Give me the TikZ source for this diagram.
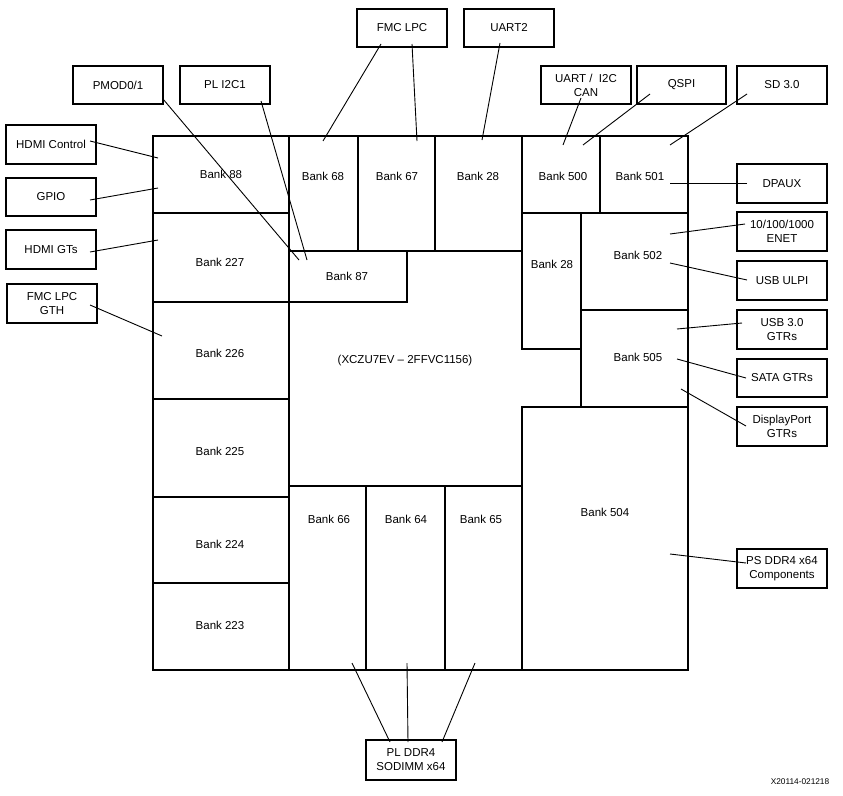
\documentclass[tikz,border=0pt]{standalone}
\usepackage{fontspec}
\setmainfont{Liberation Sans}
\begin{document}
\begin{tikzpicture}[x=1pt,y=-1pt,
  bankbox/.style={draw=black,line width=1.8pt,inner sep=0pt,rectangle},
  banktext/.style={inner sep=0pt,font=\fontsize{11.5}{14}\selectfont},
  extbox/.style={draw=black,line width=2pt,inner sep=0pt,rectangle,minimum width=90pt,minimum height=38pt,align=center,font=\fontsize{11.5}{14}\selectfont},
  conn/.style={draw=black,line width=0.9pt}]
\useasboundingbox[fill=white] (0,0) rectangle (843,795);
\newcommand\bank[8]{%
  \pgfmathsetmacro\bw{#4-#2}\pgfmathsetmacro\bh{#5-#3}%
  \node[bankbox,minimum width=\bw pt,minimum height=\bh pt] (#1) at ({(#2+#4)/2},{(#3+#5)/2}) {};
  \node[banktext] (#1-t) at (#6,#7) {#8};}
% chip outline
\node[bankbox,minimum width=535pt,minimum height=534pt] (chip) at (420.5,403) {};
\node[banktext] (chip-t) at (405,361) {(XCZU7EV -- 2FFVC1156)};
% banks
\bank{b88}{153}{136}{289}{213}{221}{174}{Bank 88}
\bank{b227}{153}{213}{289}{302}{220}{262}{Bank 227}
\bank{b226}{153}{302}{289}{399}{220}{353}{Bank 226}
\bank{b225}{153}{399}{289}{497}{220}{451}{Bank 225}
\bank{b224}{153}{497}{289}{583}{220}{544}{Bank 224}
\bank{b223}{153}{583}{289}{670}{220}{625}{Bank 223}
\bank{b68}{289}{136}{358}{251}{323}{176}{Bank 68}
\bank{b67}{358}{136}{435}{251}{397}{176}{Bank 67}
\bank{b28a}{435}{136}{522}{251}{478}{176}{Bank 28}
\bank{b500}{522}{136}{600}{213}{563}{176}{Bank 500}
\bank{b501}{600}{136}{688}{213}{640}{176}{Bank 501}
\bank{b87}{289}{251}{407}{302}{347}{276}{Bank 87}
\bank{b28b}{522}{213}{581}{349}{552}{264}{Bank 28}
\bank{b502}{581}{213}{688}{310}{638}{255}{Bank 502}
\bank{b505}{581}{310}{688}{407}{638}{357}{Bank 505}
\bank{b504}{522}{407}{688}{670}{605}{512}{Bank 504}
\bank{b66}{289}{486}{366}{670}{329}{519}{Bank 66}
\bank{b64}{366}{486}{445}{670}{406}{519}{Bank 64}
\bank{b65}{445}{486}{522}{670}{481}{519}{Bank 65}
% external boxes
\node[extbox] (fmc) at (402,28) {FMC LPC};
\node[extbox] (uart2) at (509,28) {UART2};
\node[extbox] (pmod) at (118,85) {PMOD0/1};
\node[extbox] (pli2c) at (225,85) {PL I2C1};
\node[extbox,minimum height=39pt] (hdmic) at (51,144.5) {HDMI Control};
\node[extbox] (gpio) at (51,197) {GPIO};
\node[extbox,minimum height=39pt] (hdmigt) at (51,249.5) {HDMI GTs};
\node[extbox,minimum height=39pt] (fmcgth) at (52,303.5) {FMC LPC\\GTH};
\node[extbox] (uartcan) at (586,85) {UART /\ \ I2C\\CAN};
\node[extbox,minimum width=89pt] (qspi) at (681.5,85) {QSPI};
\node[extbox] (sd) at (782,85) {SD 3.0};
\node[extbox,minimum height=39pt] (dpaux) at (782,183.5) {DPAUX};
\node[extbox,minimum height=39pt] (enet) at (782,231.5) {10/100/1000\\ENET};
\node[extbox,minimum height=39pt] (ulpi) at (782,280.5) {USB ULPI};
\node[extbox,minimum height=39pt] (usb3) at (782,329.5) {USB 3.0\\GTRs};
\node[extbox] (sata) at (782,378) {SATA GTRs};
\node[extbox,minimum height=39pt] (dp) at (782,426.5) {DisplayPort\\GTRs};
\node[extbox,minimum height=39pt] (psddr) at (782,568.5) {PS DDR4 x64\\Components};
\node[extbox,minimum height=40pt] (plddr) at (411,760) {PL DDR4\\SODIMM x64};
\node[inner sep=0pt,font=\fontsize{8.3}{10}\selectfont] (fig) at (800,782) {X20114-021218};
% connector end points
\coordinate (fmc-a) at (381,44);   \coordinate (b68-a) at (323,141);
\coordinate (fmc-b) at (412,44);   \coordinate (b67-a) at (417,141);
\coordinate (uart2-a) at (500,43); \coordinate (b28a-a) at (482,140);
\coordinate (pmod-a) at (163,99);  \coordinate (b87-a) at (299,260);
\coordinate (pli2c-a) at (261,101);\coordinate (b87-b) at (307,260);
\coordinate (hdmic-a) at (90,141); \coordinate (b88-a) at (158,158);
\coordinate (gpio-a) at (90,200);  \coordinate (b88-b) at (158,188);
\coordinate (hdmigt-a) at (90,252);\coordinate (b227-a) at (158,240);
\coordinate (fmcgth-a) at (90,305);\coordinate (b226-a) at (162,336);
\coordinate (uartcan-a) at (581,98);\coordinate (b500-a) at (563,145);
\coordinate (qspi-a) at (650,94);  \coordinate (b500-b) at (583,145);
\coordinate (sd-a) at (747,94);    \coordinate (b501-a) at (670,145);
\coordinate (dpaux-a) at (747,183);\coordinate (b501-b) at (670,183);
\coordinate (enet-a) at (745,224); \coordinate (b502-a) at (670,234);
\coordinate (ulpi-a) at (747,280); \coordinate (b502-b) at (670,263);
\coordinate (usb3-a) at (742,323); \coordinate (b505-a) at (677,329);
\coordinate (sata-a) at (746,378); \coordinate (b505-b) at (677,359);
\coordinate (dp-a) at (746,426);   \coordinate (b505-c) at (681,389);
\coordinate (psddr-a) at (746,563);\coordinate (b504-a) at (670,554);
\coordinate (plddr-a) at (390,742);\coordinate (b66-a) at (352,663);
\coordinate (plddr-b) at (408,742);\coordinate (b64-a) at (407,663);
\coordinate (plddr-c) at (442,742);\coordinate (b65-a) at (475,663);
% connectors
\draw[conn] (fmc-a) -- (b68-a);
\draw[conn] (fmc-b) -- (b67-a);
\draw[conn] (uart2-a) -- (b28a-a);
\draw[conn] (pmod-a) -- (b87-a);
\draw[conn] (pli2c-a) -- (b87-b);
\draw[conn] (hdmic-a) -- (b88-a);
\draw[conn] (gpio-a) -- (b88-b);
\draw[conn] (hdmigt-a) -- (b227-a);
\draw[conn] (fmcgth-a) -- (b226-a);
\draw[conn] (uartcan-a) -- (b500-a);
\draw[conn] (qspi-a) -- (b500-b);
\draw[conn] (sd-a) -- (b501-a);
\draw[conn] (dpaux-a) -- (b501-b);
\draw[conn] (enet-a) -- (b502-a);
\draw[conn] (ulpi-a) -- (b502-b);
\draw[conn] (usb3-a) -- (b505-a);
\draw[conn] (sata-a) -- (b505-b);
\draw[conn] (dp-a) -- (b505-c);
\draw[conn] (psddr-a) -- (b504-a);
\draw[conn] (plddr-a) -- (b66-a);
\draw[conn] (plddr-b) -- (b64-a);
\draw[conn] (plddr-c) -- (b65-a);
\end{tikzpicture}
\end{document}
